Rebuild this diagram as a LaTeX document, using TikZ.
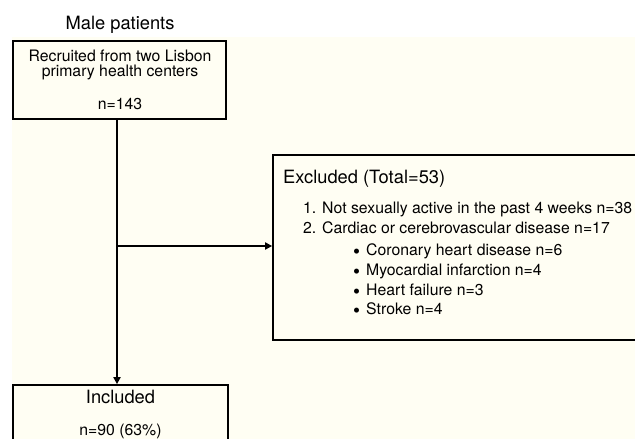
\documentclass[tikz,border=0pt]{standalone}
\usepackage{fontspec}
\setmainfont{TeX Gyre Heros}
\usetikzlibrary{arrows.meta}
\definecolor{cream}{HTML}{FFFEF3}
\newcommand{\bigbul}{\makebox[13pt][l]{\fontsize{20}{20}\selectfont\raisebox{-3.2pt}{\textbullet}}}
\tikzset{
  box/.style={draw=black, line width=1.7pt, fill=cream, inner sep=0pt},
  conn/.style={line width=1.7pt, -{Triangle[length=7pt,width=7pt]}},
  txt/.style={inner sep=0pt, font=\fontsize{15.8}{18}\selectfont},
  bigtxt/.style={inner sep=0pt, font=\fontsize{18.3}{21}\selectfont},
}
\begin{document}
\begin{tikzpicture}[x=1pt,y=-1pt]
\useasboundingbox (0,0) rectangle (635,439);
\clip (0,0) rectangle (635,439);
\fill[white] (0,0) rectangle (635,439);
\fill[cream] (12,37) rectangle (635,439);

% boxes
\node[box, minimum width=213pt, minimum height=78pt] (top) at (119.5,80) {};
\node[box, minimum width=215pt, minimum height=80pt] (bot) at (120.5,425) {};
\node[box, minimum width=372pt, minimum height=185pt] (exc) at (459,247.5) {};

% title
\node[bigtxt, anchor=base] (title) at (120,30) {Male patients};

% top box text
\node[txt, anchor=base] (t1) at (120,61.7) {Recruited from two Lisbon};
\node[txt, anchor=base] (t2) at (120,76.7) {primary health centers};
\node[txt, anchor=base] (t3) at (120,109) {n=143};

% bottom box text
\node[bigtxt, anchor=base] (b1) at (120.5,403) {Included};
\node[txt, anchor=base] (b2) at (120.5,435) {n=90 (63\%)};

% excluded box text
\node[bigtxt, anchor=base west] (e0) at (283,183) {Excluded (Total=53)};
\node[txt, anchor=base west] (e1) at (303,213) {1. Not sexually active in the past 4 weeks n=38};
\node[txt, anchor=base west] (e2) at (303,233) {2. Cardiac or cerebrovascular disease n=17};
\node[txt, anchor=base west] (e3) at (353,255) {\bigbul Coronary heart disease n=6};
\node[txt, anchor=base west] (e4) at (353,275) {\bigbul Myocardial infarction n=4};
\node[txt, anchor=base west] (e5) at (353,295) {\bigbul Heart failure n=3};
\node[txt, anchor=base west] (e6) at (353,314) {\bigbul Stroke n=4};

% connectors
\coordinate (vx) at (117,0);
\coordinate (hy) at (0,246);
\coordinate (split) at (vx |- hy);
\draw[conn] (top.south -| vx) -- (bot.north -| vx);
\draw[conn] (split) -- (exc.west |- hy);
\end{tikzpicture}
\end{document}
